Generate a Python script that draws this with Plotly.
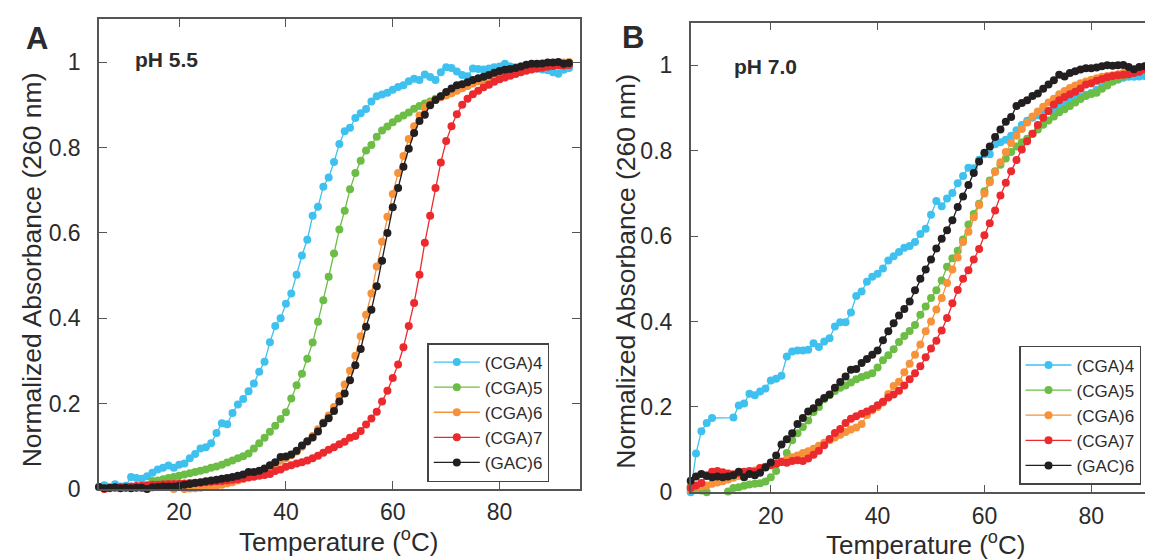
import plotly.graph_objects as go

# ---------------- data ----------------
names = ["(CGA)4", "(CGA)5", "(CGA)6", "(CGA)7", "(GAC)6"]
colors = ["#3fc1ef", "#6cbd45", "#f7923a", "#ec2a2e", "#231f20"]

# Panel A (pH 5.5)
tA_cga4 = list(range(5, 94))
A_cga4 = [0.005, 0.009, 0.004, 0.011, 0.006, 0.008, 0.028, 0.026, 0.024, 0.030,
          0.038, 0.046, 0.050, 0.055, 0.050, 0.057, 0.060, 0.072, 0.082, 0.095,
          0.098, 0.107, 0.131, 0.154, 0.152, 0.178, 0.198, 0.211, 0.229, 0.247,
          0.275, 0.298, 0.344, 0.382, 0.400, 0.434, 0.458, 0.502, 0.547, 0.584,
          0.640, 0.661, 0.708, 0.730, 0.766, 0.808, 0.838, 0.846, 0.869, 0.880,
          0.890, 0.908, 0.920, 0.924, 0.928, 0.935, 0.942, 0.946, 0.955, 0.961,
          0.958, 0.971, 0.965, 0.958, 0.976, 0.988, 0.986, 0.978, 0.970, 0.967,
          0.985, 0.984, 0.983, 0.985, 0.988, 0.990, 0.996, 0.990, 0.988, 0.990,
          0.988, 0.987, 0.985, 0.983, 0.981, 0.976, 0.973, 0.982, 0.986]

tA_cga5 = list(range(15, 94))
A_cga5 = [0.019, 0.020, 0.023, 0.026, 0.028, 0.031, 0.034, 0.037, 0.040, 0.043,
          0.046, 0.050, 0.053, 0.057, 0.062, 0.067, 0.072, 0.077, 0.083, 0.095,
          0.107, 0.120, 0.134, 0.148, 0.164, 0.180, 0.212, 0.243, 0.270, 0.305,
          0.343, 0.392, 0.442, 0.497, 0.552, 0.608, 0.652, 0.702, 0.740, 0.769,
          0.793, 0.806, 0.825, 0.840, 0.849, 0.859, 0.868, 0.875, 0.882, 0.891,
          0.897, 0.903, 0.908, 0.914, 0.920, 0.926, 0.932, 0.938, 0.943, 0.947,
          0.952, 0.956, 0.960, 0.965, 0.969, 0.973, 0.976, 0.979, 0.982, 0.985,
          0.987, 0.989, 0.991, 0.993, 0.995, 0.996, 0.997, 0.998, 0.999]

tA_cga6 = list(range(19, 94))
A_cga6 = [0.000, -0.002, 0.000, 0.001, 0.002, 0.003, 0.005, 0.006, 0.008, 0.010,
          0.013, 0.016, 0.020, 0.024, 0.028, 0.034, 0.040, 0.046, 0.053, 0.060,
          0.066, 0.072, 0.079, 0.088, 0.099, 0.111, 0.124, 0.140, 0.156, 0.172,
          0.192, 0.218, 0.245, 0.277, 0.312, 0.358, 0.408, 0.458, 0.521, 0.579,
          0.638, 0.691, 0.740, 0.780, 0.820, 0.850, 0.875, 0.893, 0.904, 0.912,
          0.918, 0.922, 0.927, 0.933, 0.939, 0.944, 0.950, 0.955, 0.960, 0.965,
          0.970, 0.973, 0.976, 0.980, 0.983, 0.986, 0.988, 0.990, 0.991, 0.993,
          0.995, 0.997, 0.998, 0.999, 1.000]

tA_cga7 = list(range(5, 94))
A_cga7 = [-0.004, 0.000, 0.002, 0.003, 0.004, 0.005, 0.006, 0.007, 0.008, 0.009,
          0.010, 0.010, 0.011, 0.012, 0.012, 0.013, 0.013, 0.014, 0.015, 0.015,
          0.016, 0.017, 0.018, 0.019, 0.020, 0.022, 0.023, 0.025, 0.027, 0.029,
          0.031, 0.033, 0.035, 0.042, 0.046, 0.052, 0.056, 0.060, 0.063, 0.067,
          0.072, 0.078, 0.085, 0.092, 0.098, 0.105, 0.111, 0.120, 0.124, 0.136,
          0.151, 0.165, 0.181, 0.205, 0.230, 0.260, 0.292, 0.332, 0.382, 0.436,
          0.502, 0.577, 0.640, 0.705, 0.765, 0.815, 0.850, 0.878, 0.900, 0.914,
          0.925, 0.933, 0.941, 0.947, 0.954, 0.960, 0.964, 0.968, 0.972, 0.976,
          0.980, 0.983, 0.985, 0.987, 0.989, 0.991, 0.992, 0.992, 0.993]

tA_gac6 = list(range(5, 94))
A_gac6 = [0.005, 0.002, 0.003, 0.004, 0.002, 0.003, 0.002, 0.003, 0.003, 0.000,
          0.004, 0.005, 0.006, 0.006, 0.006, 0.008, 0.010, 0.012, 0.014, 0.016,
          0.018, 0.020, 0.022, 0.024, 0.026, 0.028, 0.031, 0.034, 0.040, 0.040,
          0.043, 0.048, 0.056, 0.063, 0.075, 0.076, 0.081, 0.090, 0.102, 0.112,
          0.121, 0.135, 0.154, 0.166, 0.183, 0.205, 0.224, 0.255, 0.290, 0.328,
          0.380, 0.420, 0.475, 0.535, 0.600, 0.660, 0.705, 0.755, 0.797, 0.834,
          0.862, 0.877, 0.899, 0.911, 0.920, 0.930, 0.938, 0.946, 0.948, 0.953,
          0.958, 0.962, 0.966, 0.970, 0.975, 0.979, 0.982, 0.984, 0.986, 0.990,
          0.994, 0.996, 0.996, 0.997, 0.999, 0.999, 1.000, 0.996, 0.998]

# Panel B (pH 7.0)
tB = list(range(5, 94))
B_cga4 = [0.000, 0.091, 0.143, 0.162, 0.174, None, None, None, 0.175, 0.203,
          0.208, 0.231, 0.227, 0.236, 0.243, 0.262, 0.266, 0.273, 0.318, 0.330,
          0.332, 0.332, 0.334, 0.349, 0.340, 0.353, 0.361, 0.388, 0.398, 0.398,
          0.421, 0.460, 0.470, 0.493, 0.505, 0.512, 0.524, 0.543, 0.553, 0.563,
          0.573, 0.577, 0.586, 0.605, 0.617, 0.650, 0.682, 0.670, 0.688, 0.701,
          0.724, 0.741, 0.760, 0.759, 0.779, 0.792, 0.792, 0.815, 0.820, 0.826,
          0.835, 0.848, 0.860, 0.870, 0.877, 0.883, 0.888, 0.893, 0.898, 0.905,
          0.912, 0.918, 0.922, 0.927, 0.931, 0.935, 0.943, 0.950, 0.957, 0.962,
          0.966, 0.971, 0.973, 0.973, 0.974, 0.975, 0.980, 0.986, 0.990]

B_cga5 = [0.014, 0.010, 0.004, 0.000, -0.002, -0.003, -0.002, 0.002, 0.010, 0.012,
          0.015, 0.018, 0.020, 0.021, 0.025, 0.035, 0.050, 0.072, 0.092, 0.122,
          0.138, 0.153, 0.168, 0.188, 0.200, 0.218, 0.227, 0.237, 0.245, 0.250,
          0.257, 0.265, 0.270, 0.274, 0.279, 0.292, 0.309, 0.321, 0.335, 0.352,
          0.366, 0.378, 0.392, 0.416, 0.435, 0.455, 0.473, 0.496, 0.528, 0.548,
          0.566, 0.592, 0.627, 0.652, 0.676, 0.705, 0.730, 0.752, 0.767, 0.782,
          0.797, 0.810, 0.820, 0.828, 0.840, 0.850, 0.861, 0.871, 0.880, 0.890,
          0.897, 0.905, 0.913, 0.921, 0.928, 0.933, 0.936, 0.945, 0.953, 0.962,
          0.968, 0.974, 0.980, 0.986, 0.991, 0.995, 0.998, 1.000, 1.000]

B_cga6 = [0.006, -0.002, 0.014, 0.016, 0.020, 0.023, 0.026, 0.030, 0.034, 0.038,
          0.043, 0.047, 0.051, 0.056, 0.059, 0.063, 0.067, 0.071, 0.077, 0.082,
          0.086, 0.092, 0.096, 0.102, 0.109, 0.116, 0.122, 0.128, 0.135, 0.141,
          0.147, 0.152, 0.160, 0.181, 0.192, 0.200, 0.210, 0.230, 0.249, 0.259,
          0.281, 0.301, 0.322, 0.346, 0.377, 0.400, 0.428, 0.455, 0.490, 0.522,
          0.550, 0.586, 0.610, 0.644, 0.673, 0.700, 0.726, 0.750, 0.773, 0.797,
          0.818, 0.835, 0.851, 0.866, 0.880, 0.892, 0.903, 0.913, 0.922, 0.932,
          0.940, 0.947, 0.953, 0.958, 0.962, 0.966, 0.970, 0.973, 0.975, 0.977,
          0.979, 0.982, 0.985, 0.989, 0.993, 0.997, 1.000, 1.003, 1.005]

B_cga7 = [0.010, 0.016, 0.022, 0.040, 0.048, 0.050, 0.047, 0.044, 0.042, 0.045,
          0.048, 0.050, 0.048, 0.057, 0.060, 0.064, 0.067, 0.071, 0.069, 0.073,
          0.075, 0.073, 0.079, 0.088, 0.097, 0.110, 0.125, 0.139, 0.148, 0.162,
          0.172, 0.178, 0.184, 0.189, 0.195, 0.204, 0.212, 0.222, 0.229, 0.238,
          0.250, 0.265, 0.279, 0.295, 0.316, 0.337, 0.355, 0.379, 0.408, 0.443,
          0.474, 0.500, 0.520, 0.545, 0.570, 0.602, 0.630, 0.660, 0.695, 0.725,
          0.752, 0.778, 0.803, 0.822, 0.840, 0.860, 0.877, 0.893, 0.908, 0.918,
          0.926, 0.932, 0.938, 0.946, 0.955, 0.958, 0.964, 0.968, 0.972, 0.975,
          0.977, 0.978, 0.979, 0.982, 0.985, 0.990, 0.994, 0.998, 1.000]

B_gac6 = [0.027, 0.037, 0.043, 0.038, 0.035, 0.037, 0.035, 0.037, 0.040, 0.048,
          0.035, 0.043, 0.040, 0.046, 0.058, 0.070, 0.086, 0.112, 0.124, 0.138,
          0.160, 0.174, 0.189, 0.197, 0.211, 0.221, 0.229, 0.245, 0.258, 0.271,
          0.287, 0.289, 0.303, 0.312, 0.322, 0.332, 0.356, 0.377, 0.396, 0.414,
          0.429, 0.447, 0.473, 0.500, 0.522, 0.545, 0.571, 0.594, 0.614, 0.637,
          0.668, 0.693, 0.720, 0.748, 0.775, 0.795, 0.810, 0.832, 0.850, 0.868,
          0.879, 0.905, 0.912, 0.918, 0.928, 0.934, 0.945, 0.955, 0.965, 0.978,
          0.974, 0.982, 0.986, 0.990, 0.993, 0.993, 0.995, 0.998, 1.000, 0.999,
          1.000, 1.001, 0.996, 0.991, 0.996, 0.998, 0.999, 0.970, 0.975]

x_ticks = [20, 40, 60, 80]
y_ticks = [0, 0.2, 0.4, 0.6, 0.8, 1.0]
y_ticktext = ["0", "0.2", "0.4", "0.6", "0.8", "1"]

panelA = [(tA_cga4, A_cga4), (tA_cga5, A_cga5), (tA_cga6, A_cga6),
          (tA_cga7, A_cga7), (tA_gac6, A_gac6)]
panelB = [(tB, B_cga4), (tB, B_cga5), (tB, B_cga6), (tB, B_cga7), (tB, B_gac6)]

# ---------------- figure ----------------
W, H = 1153, 559
FONT = "Liberation Sans, Arial, Helvetica, sans-serif"
AX = "#555555"
TXT = "#2b2b2b"

fig = go.Figure()
for i, (t, v) in enumerate(panelA):
    fig.add_trace(go.Scatter(
        x=t, y=v, name=names[i], mode="lines+markers",
        line=dict(color=colors[i], width=1.3),
        marker=dict(color=colors[i], size=8),
        cliponaxis=False, xaxis="x", yaxis="y", legend="legend"))
for i, (t, v) in enumerate(panelB):
    fig.add_trace(go.Scatter(
        x=t, y=v, name=names[i], mode="lines+markers", connectgaps=True,
        line=dict(color=colors[i], width=1.3),
        marker=dict(color=colors[i], size=8),
        cliponaxis=False, xaxis="x2", yaxis="y2", legend="legend2"))

def px(x):
    return x / W

def py(y):
    return 1 - y / H

common_x = dict(tickvals=x_ticks, ticks="inside", ticklen=8, tickwidth=1.3,
                tickcolor=AX, showline=True, linecolor=AX, linewidth=1.5,
                showgrid=False, zeroline=False, ticklabelstandoff=2,
                tickfont=dict(family=FONT, size=23, color=TXT))
common_y = dict(range=[0, 1.1], tickvals=y_ticks, ticktext=y_ticktext,
                ticks="inside", ticklen=8, tickwidth=1.3, tickcolor=AX,
                showline=True, linecolor=AX, linewidth=1.5, showgrid=False,
                zeroline=False, ticklabelstandoff=12,
                tickfont=dict(family=FONT, size=23, color=TXT))

legend_common = dict(font=dict(family=FONT, size=17, color=TXT),
                     bgcolor="white", bordercolor="#444444", borderwidth=1.5,
                     xanchor="left", yanchor="top", itemwidth=46,
                     tracegroupgap=0)

fig.update_layout(
    width=W, height=H,
    margin=dict(l=0, r=0, t=0, b=0),
    paper_bgcolor="white", plot_bgcolor="white",
    font=dict(family=FONT, color=TXT),
    xaxis=dict(domain=[px(91), px(571.7)], range=[5, 95], anchor="y",
               mirror="ticks", **common_x),
    yaxis=dict(domain=[py(492.5), py(11.7)], anchor="x", mirror="ticks",
               **common_y),
    xaxis2=dict(domain=[px(682.7), 1.0], range=[5, 93.06], anchor="y2",
                mirror="ticks", **common_x),
    yaxis2=dict(domain=[py(495.8), py(15)], anchor="x2", mirror=False,
                **common_y),
    legend=dict(x=px(419.3), y=py(343), **legend_common),
    legend2=dict(x=px(1011), y=py(346), **legend_common),
    showlegend=True,
)

ann = [
    dict(text="<b>A</b>", x=px(28.6), y=py(31), font=dict(size=31)),
    dict(text="<b>B</b>", x=px(624.7), y=py(30), font=dict(size=31)),
    dict(text="<b>pH 5.5</b>", x=px(125), y=py(53), xanchor="left",
         font=dict(size=21)),
    dict(text="<b>pH 7.0</b>", x=px(724), y=py(60), xanchor="left",
         font=dict(size=21)),
    dict(text="Temperature (<sup>o</sup>C)", x=px(330), y=py(545),
         font=dict(size=26)),
    dict(text="Temperature (<sup>o</sup>C)", x=px(917), y=py(548),
         font=dict(size=26)),
    dict(text="Normalized Absorbance (260 nm)", x=px(23.5), y=py(268),
         textangle=-90, font=dict(size=26.5)),
    dict(text="Normalized Absorbance (260 nm)", x=px(618), y=py(270),
         textangle=-90, font=dict(size=26.5)),
]
for a in ann:
    a.setdefault("xanchor", "center")
    a.update(xref="paper", yref="paper", yanchor="middle", showarrow=False)
    a["font"].update(family=FONT, color=TXT)
    fig.add_annotation(**a)

fig.write_html("out.html")
